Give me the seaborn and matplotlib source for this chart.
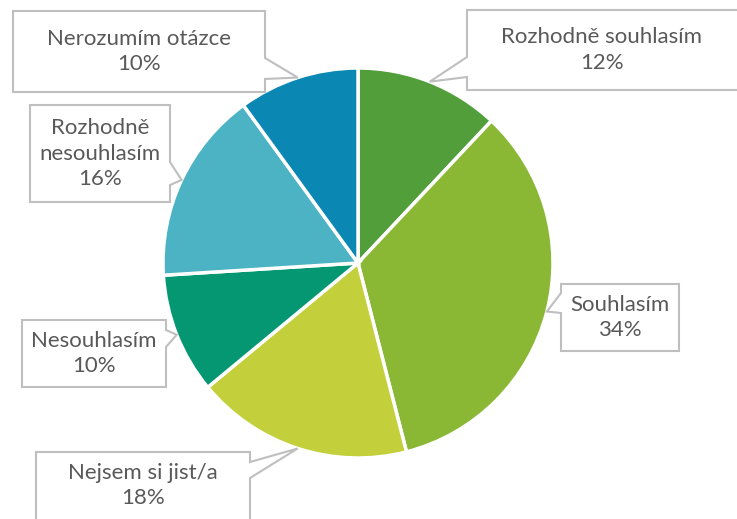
import numpy as np
import seaborn as sns
import matplotlib.pyplot as plt
from matplotlib.patches import Polygon

# odpovědi (po směru hodinových ručiček od 12 hodin)
kategorie = ["Rozhodně souhlasím", "Souhlasím", "Nejsem si jist/a",
             "Nesouhlasím", "Rozhodně nesouhlasím", "Nerozumím otázce"]
popisky = ["Rozhodně souhlasím", "Souhlasím", "Nejsem si jist/a",
           "Nesouhlasím", "Rozhodně\nnesouhlasím", "Nerozumím otázce"]
procenta = [12, 34, 18, 10, 16, 10]
barvy = ["#519e3b", "#8ab834", "#c3d03b", "#059672", "#4bb3c4", "#0a87b3"]

sns.set_theme(style="white")
plt.rcParams['font.family'] = ['Lato', 'DejaVu Sans']

W, H = 737, 519
fig = plt.figure(figsize=(W / 100, H / 100), dpi=100)
ax = fig.add_axes([0, 0, 1, 1])

stred = (358, H - 263)
polomer = 195
ax.pie(procenta, colors=sns.color_palette(barvy), startangle=90, counterclock=False,
       center=stred, radius=polomer,
       wedgeprops=dict(edgecolor="white", linewidth=2.5))
ax.set_xlim(0, W)
ax.set_ylim(0, H)
ax.set_aspect("equal")
ax.axis("off")

# rámečky popisků: (x0, y0, x1, y1) v pixelech shora, strana výběžku, rozsah výběžku
boxy = [
    ((467, 10, 745, 90), "left", (57, 77)),
    ((561, 284, 679, 351), "left", (293, 313)),
    ((36, 452, 250, 525), "right", (462, 478)),
    ((22, 320, 166, 387), "right", (330, 347)),
    ((30, 105, 170, 202), "right", (162, 185)),
    ((13, 11, 265, 92), "right", (58, 79)),
]

kum = np.cumsum([0] + procenta[:-1])
for i, (box, strana, (a, b)) in enumerate(boxy):
    uhel = np.deg2rad(360 * (kum[i] + procenta[i] / 2) / 100)
    hx = stred[0] + polomer * np.sin(uhel)
    hy = stred[1] + polomer * np.cos(uhel)
    x0, y0, x1, y1 = box
    Y = lambda y: H - y
    if strana == "right":
        pts = [(x0, Y(y0)), (x1, Y(y0)), (x1, Y(a)), (hx, hy), (x1, Y(b)),
               (x1, Y(y1)), (x0, Y(y1))]
    else:
        pts = [(x0, Y(y0)), (x1, Y(y0)), (x1, Y(y1)), (x0, Y(y1)),
               (x0, Y(b)), (hx, hy), (x0, Y(a))]
    ax.add_patch(Polygon(pts, closed=True, facecolor="white", edgecolor="#bfbfbf",
                         linewidth=1.5, zorder=3, clip_on=False))
    tx = (x0 + min(x1, W)) / 2
    ty = (y0 + min(y1, H)) / 2
    ax.text(tx, Y(ty), f"{popisky[i]}\n{procenta[i]}%", ha="center", va="center",
            fontsize=16, color="#595959", linespacing=1.35, zorder=4)

fig.savefig("out.png", dpi=100)
